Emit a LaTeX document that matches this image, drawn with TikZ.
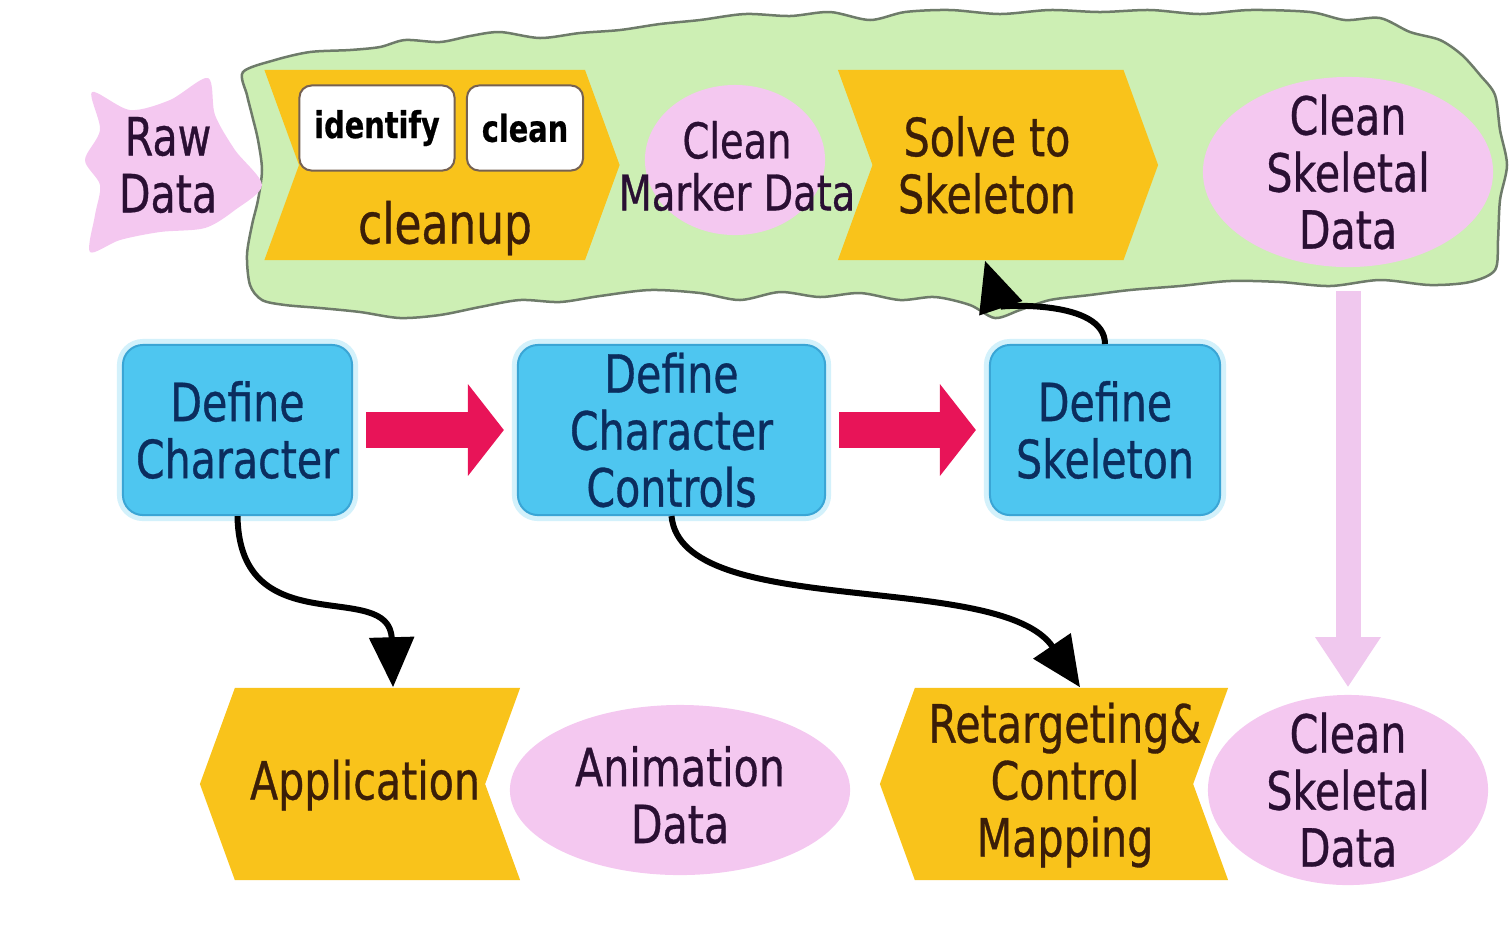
\documentclass[tikz,border=0pt]{standalone}
\usepackage{fontspec}
\setmainfont{DejaVu Sans}[FakeStretch=0.78,FakeBold=0.6]
\usetikzlibrary{shapes.geometric,shapes.symbols,arrows.meta}
\definecolor{cloudfill}{HTML}{CDEFB4}
\definecolor{cloudedge}{HTML}{6E7B6A}
\definecolor{blobpink}{HTML}{F4C8F0}
\definecolor{chevyellow}{HTML}{F9C31B}
\definecolor{skyfill}{HTML}{4EC6F0}
\definecolor{skyedge}{HTML}{3AA5D5}
\definecolor{navytext}{HTML}{0B2D5E}
\definecolor{browntext}{HTML}{3B1E08}
\definecolor{purpletext}{HTML}{2A0F33}
\definecolor{redarrow}{HTML}{E81458}
\definecolor{pinkarrow}{HTML}{F0C8EE}
\begin{document}
\begin{tikzpicture}[x=0.01cm,y=-0.01cm,
	every node/.style={font=\fontsize{15}{16.2}\selectfont, align=center, inner sep=0pt},
	chev/.style={signal, signal pointer angle=140, fill=chevyellow, text=browntext},
	blob/.style={ellipse, fill=blobpink},
	stepbox/.style={rounded corners=0.2cm, fill=skyfill, draw=skyedge, line width=0.02cm, text=navytext,
		preaction={draw=skyfill!25, line width=0.12cm}, minimum height=1.7cm},
	subbox/.style={rounded corners=0.12cm, fill=white, draw=browntext!70, line width=0.02cm,
		minimum height=0.85cm, font=\fontsize{10.5}{12}\bfseries},
	conn/.style={line width=0.06cm, -{Triangle[length=0.5cm,width=0.44cm]}},
	redarr/.style={draw=redarrow, line width=0.36cm, shorten <=0.13cm, shorten >=0.13cm,
		-{Triangle[length=0.36cm,width=0.9cm]}}]
	\useasboundingbox (0,0) rectangle (1509,944);

	% green region round the cleanup stage
	\filldraw[fill=cloudfill, draw=cloudedge, line width=0.025cm] plot[smooth cycle] coordinates {
		(243,72) (275,60) (310,52) (350,50) (380,47) (405,40) (440,42) (470,36) (500,32) (540,38)
		(580,33) (620,30) (660,24) (700,20) (745,14) (790,16) (830,12) (870,20) (905,12) (950,10)
		(1000,14) (1050,10) (1100,12) (1150,10) (1200,14) (1250,10) (1310,12) (1345,20) (1380,18)
		(1410,32) (1440,40) (1462,55) (1480,75) (1495,95) (1500,130) (1507,165) (1500,200) (1498,240)
		(1495,270) (1470,282) (1430,285) (1380,280) (1330,286) (1280,282) (1230,281) (1180,286)
		(1130,290) (1090,295) (1050,300) (1020,310) (995,318) (970,305) (935,297) (900,300) (860,293)
		(820,297) (780,292) (740,300) (700,293) (650,290) (600,296) (560,302) (520,300) (480,307)
		(440,315) (400,318) (360,312) (320,308) (285,305) (262,300) (250,285) (247,255) (252,225)
		(258,200) (262,170) (258,140) (252,115) (247,95)};

	% raw data
	\fill[blobpink] plot[smooth cycle] coordinates {(92,92) (130,110) (170,100) (208,78) (215,115)
		(235,150) (262,185) (235,210) (205,228) (160,232) (120,240) (90,252) (95,215) (100,185)
		(85,160) (100,130)};
	\node[text=purpletext] (raw) at (168,165) {Raw\\Data};

	% top row
	\node[chev, signal from=west, minimum width=3.55cm, minimum height=1.9cm] (cleanup) at (442,165) {};
	\node[subbox, minimum width=1.55cm] (identify) at (377,128) {identify};
	\node[subbox, minimum width=1.16cm] (clean) at (525,128) {clean};
	\node[text=browntext, font=\fontsize{16}{17}\selectfont] (cleanlbl) at (445,228) {cleanup};
	\node[blob, minimum width=1.8cm, minimum height=1.5cm] (cmd) at (735,160) {};
	\node[text=purpletext, font=\fontsize{14}{14.8}\selectfont] (cmdlbl) at (737,166) {Clean\\Marker Data};
	\node[chev, signal from=west, minimum width=3.2cm, minimum height=1.9cm] (solve) at (998,165) {};
	\node[text=browntext] (solvelbl) at (987,165) {Solve to\\Skeleton};
	\node[blob, minimum width=2.9cm, minimum height=1.9cm] (csdtop) at (1348,172) {};
	\node[text=purpletext] (csdtoplbl) at (1348,172) {Clean\\Skeletal\\Data};

	% middle row
	\node[stepbox, minimum width=2.29cm] (defchar) at (237.5,430) {Define\\Character};
	\node[stepbox, minimum width=3.07cm] (defctrl) at (671.5,430) {Define\\Character\\Controls};
	\node[stepbox, minimum width=2.3cm] (defskel) at (1105,430) {Define\\Skeleton};

	% bottom row
	\node[chev, signal from=east, signal to=west, minimum width=3.2cm, minimum height=1.92cm] (app) at (360,784) {};
	\node[text=browntext] (applbl) at (365,785) {Application};
	\node[blob, minimum width=3.4cm, minimum height=1.7cm] (anim) at (680,790) {};
	\node[text=purpletext] (animlbl) at (680,795) {Animation\\Data};
	\node[chev, signal from=east, signal to=west, minimum width=3.48cm, minimum height=1.92cm] (retarget) at (1054,784) {};
	\node[text=browntext] (retargetlbl) at (1065,785) {Retargeting\&\\Control\\Mapping};
	\node[blob, minimum width=2.8cm, minimum height=1.9cm] (csdbot) at (1348,790) {};
	\node[text=purpletext] (csdbotlbl) at (1348,790) {Clean\\Skeletal\\Data};

	% connectors
	\draw[redarr] (defchar.east) -- (defctrl.west);
	\draw[redarr] (defctrl.east) -- (defskel.west);
	\draw[conn] (defskel.north) .. controls +(0,-45) and +(15,45) .. ([xshift=-0.13cm]solve.south);
	\draw[conn] (defchar.south) .. controls +(2,130) and +(-3,-110) .. ([xshift=0.33cm]app.north);
	\draw[conn] (defctrl.south) .. controls +(10,105) and +(-80,-118) .. ([xshift=0.26cm]retarget.north);
	\draw[draw=pinkarrow, line width=0.25cm, shorten <=0.23cm, shorten >=0.07cm,
		-{Triangle[length=0.5cm,width=0.62cm]}] (csdtop.south) -- (csdbot.north);
\end{tikzpicture}
\end{document}
